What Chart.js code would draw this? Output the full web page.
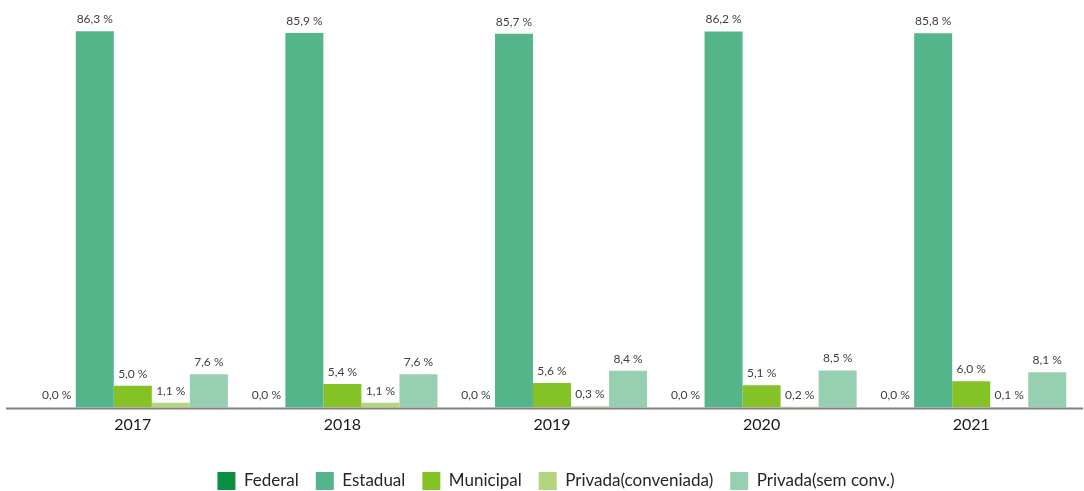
<!DOCTYPE html>
<html>
<head>
<meta charset="utf-8">
<script src="https://cdn.jsdelivr.net/npm/chart.js@4.4.1/dist/chart.umd.min.js"></script>
<style>
  html, body { margin: 0; padding: 0; background: #ffffff; }
  #wrap { width: 1084px; height: 491px; position: relative; }
</style>
</head>
<body>
<div id="wrap"><canvas id="c"></canvas></div>
<script>
// ---- data ----
const years = ['2017', '2018', '2019', '2020', '2021'];
const seriesNames = ['Federal', 'Estadual', 'Municipal', 'Privada(conveniada)', 'Privada(sem conv.)'];
const federal    = [0.0, 0.0, 0.0, 0.0, 0.0];
const estadual   = [86.3, 85.9, 85.7, 86.2, 85.8];
const municipal  = [5.0, 5.4, 5.6, 5.1, 6.0];
const privadaConv = [1.1, 1.1, 0.3, 0.2, 0.1];
const privadaSem = [7.6, 7.6, 8.4, 8.5, 8.1];

const seriesValues = [federal, estadual, municipal, privadaConv, privadaSem];
const seriesColors = ['#0b8f43', '#54b58b', '#84c225', '#b3d67d', '#97cfb1'];

const FONT = 'Lato, "Open Sans", sans-serif';

const datasets = seriesNames.map((name, i) => ({
  label: name,
  data: seriesValues[i],
  backgroundColor: seriesColors[i],
  borderWidth: 0,
  barPercentage: 1.0,
  categoryPercentage: 0.907
}));

const valueLabels = {
  id: 'valueLabels',
  afterDatasetsDraw(chart) {
    const ctx = chart.ctx;
    ctx.save();
    ctx.font = '12px ' + FONT;
    ctx.fillStyle = '#404040';
    ctx.textAlign = 'center';
    ctx.textBaseline = 'middle';
    chart.data.datasets.forEach((ds, di) => {
      const meta = chart.getDatasetMeta(di);
      meta.data.forEach((bar, i) => {
        const v = ds.data[i];
        const txt = v.toFixed(1).replace('.', ',') + ' %';
        ctx.fillText(txt, bar.x, bar.y - 12);
      });
    });
    ctx.restore();
  }
};

const baseLine = {
  id: 'baseLine',
  afterDatasetsDraw(chart) {
    const ctx = chart.ctx;
    const a = chart.chartArea;
    ctx.save();
    ctx.strokeStyle = '#7f7f7f';
    ctx.lineWidth = 2;
    ctx.beginPath();
    ctx.moveTo(a.left - 22, a.bottom + 1);
    ctx.lineTo(a.right + 7, a.bottom + 1);
    ctx.stroke();
    ctx.restore();
  }
};

new Chart(document.getElementById('c'), {
  type: 'bar',
  data: { labels: years, datasets },
  options: {
    responsive: true,
    maintainAspectRatio: false,
    animation: false,
    layout: { padding: { left: 28, right: 0, top: 5, bottom: -9 } },
    plugins: {
      legend: {
        position: 'bottom',
        labels: {
          boxWidth: 18,
          boxHeight: 18,
          padding: 17,
          color: '#262626',
          font: { family: FONT, size: 17 }
        }
      },
      tooltip: { enabled: false }
    },
    scales: {
      x: {
        grid: { display: false, drawTicks: false },
        border: { display: false },
        ticks: { color: '#1a1a1a', padding: 8, font: { family: FONT, size: 16 } },
        afterFit(scale) { scale.height = 472 - 17 - 407.5; }
      },
      y: {
        position: 'right',
        min: 0,
        max: 92.3,
        grid: { display: false },
        border: { display: false },
        ticks: { display: false },
        afterFit(scale) { scale.width = 8; }
      }
    }
  },
  plugins: [valueLabels, baseLine]
});
</script>
</body>
</html>
